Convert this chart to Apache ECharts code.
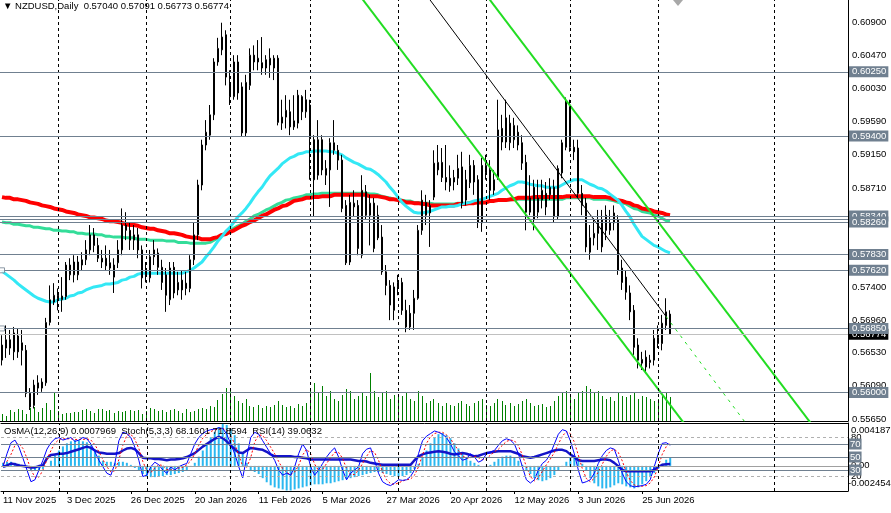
<!DOCTYPE html>
<html><head><meta charset="utf-8">
<script src="https://cdn.jsdelivr.net/npm/echarts@6/dist/echarts.min.js"></script>
<style>html,body{margin:0;padding:0;background:#fff}#c{width:891px;height:513px}</style>
</head><body><div id="c"></div>
<script>
// ---------------- data ----------------
const dateLabels = ['11 Nov 2025','3 Dec 2025','26 Dec 2025','20 Jan 2026','11 Feb 2026','5 Mar 2026','27 Mar 2026','20 Apr 2026','12 May 2026','3 Jun 2026','25 Jun 2026'];
const monthStarts = [14, 36, 57, 77, 99, 121, 142, 164, 193];

const opens = [
.5643,.5659,.5670,.5654,.5675,.5656,.5656,.5599,.5583,.5606,
.5606,.5613,.5693,.5720,.5729,.5723,.5727,.5756,.5773,.5756,
.5769,.5776,.5789,.5809,.5795,.5778,.5778,.5772,.5769,.5772,
.5789,.5822,.5815,.5802,.5809,.5789,.5762,.5752,.5789,.5785,
.5766,.5756,.5723,.5766,.5736,.5749,.5745,.5738,.5776,.5809,
.5875,.5928,.5941,.5968,.6038,.6054,.6074,.6010,.5992,.6038,
.6005,.5944,.6007,.6047,.6038,.6037,.6030,.6034,.6030,.6043,
.5957,.5965,.5972,.5952,.5957,.5992,.5972,.5981,.5935,.5888,
.5935,.5888,.5895,.5921,.5921,.5908,.5848,.5773,.5846,.5848,
.5782,.5866,.5835,.5851,.5835,.5806,.5760,.5742,.5709,.5740,
.5746,.5709,.5705,.5705,.5725,.5815,.5835,.5838,.5859,.5895,
.5905,.5885,.5884,.5879,.5884,.5899,.5855,.5878,.5901,.5882,
.5901,.5892,.5895,.5868,.5885,.5950,.5932,.5931,.5935,.5945,
.5931,.5905,.5839,.5872,.5839,.5855,.5864,.5862,.5872,.5833,
.5891,.5925,.5981,.5925,.5924,.5864,.5851,.5786,.5805,.5829,
.5793,.5835,.5815,.5825,.5829,.5765,.5753,.5732,.5709,.5663,
.5639,.5647,.5640,.5643,.5673,.5665,.5689,.57040];
const closes = [
.5663,.5670,.5659,.5679,.5654,.5666,.5599,.5581,.5610,.5613,
.5614,.5693,.5723,.5729,.5725,.5728,.5769,.5769,.5756,.5773,
.5776,.5789,.5809,.5795,.5778,.5773,.5768,.5765,.5753,.5789,
.5822,.5815,.5802,.5809,.5789,.5752,.5756,.5780,.5780,.5766,
.5746,.5729,.5765,.5732,.5746,.5736,.5738,.5776,.5809,.5875,
.5928,.5945,.5968,.6038,.6056,.6071,.6018,.5992,.6038,.5997,
.5944,.6011,.6047,.6038,.6043,.6030,.6041,.6043,.6043,.5958,
.5965,.5974,.5952,.5960,.5994,.5972,.5988,.5937,.5882,.5935,
.5895,.5897,.5931,.5931,.5908,.5844,.5772,.5852,.5851,.5791,
.5868,.5835,.5851,.5791,.5805,.5760,.5742,.5716,.5740,.5746,
.5709,.5687,.5687,.5725,.5815,.5855,.5852,.5848,.5904,.5905,
.5885,.5879,.5874,.5885,.5897,.5851,.5882,.5901,.5879,.5826,
.5825,.5901,.5868,.5882,.5948,.5932,.5964,.5957,.5954,.5928,
.5904,.5839,.5858,.5829,.5858,.5868,.5846,.5872,.5833,.5897,
.5931,.5985,.5925,.5919,.5864,.5848,.5793,.5805,.5811,.5811,
.5829,.5815,.5825,.5838,.5762,.5746,.5733,.5707,.5660,.5643,
.5644,.5634,.5643,.5672,.5665,.5692,.5707,.56774];
const highs = [
.5676,.5689,.5683,.5687,.5685,.5683,.5663,.5606,.5617,.5623,
.5619,.5699,.5742,.5745,.5738,.5753,.5773,.5778,.5782,.5781,
.5786,.5802,.5822,.5818,.5805,.5789,.5795,.5789,.5778,.5802,
.5844,.5839,.5826,.5822,.5818,.5795,.5773,.5789,.5802,.5791,
.5776,.5765,.5773,.5773,.5760,.5762,.5760,.5782,.5826,.5882,
.5935,.5961,.5981,.6043,.6070,.6090,.6080,.6027,.6047,.6047,
.6011,.6021,.6056,.6060,.6067,.6071,.6047,.6056,.6047,.6047,
.5988,.5994,.5988,.5994,.6001,.5994,.6001,.5988,.5941,.5961,
.5941,.5908,.5937,.5961,.5928,.5915,.5855,.5862,.5868,.5855,
.5888,.5875,.5862,.5858,.5848,.5822,.5769,.5749,.5746,.5756,
.5752,.5723,.5716,.5736,.5822,.5868,.5862,.5855,.5921,.5928,
.5924,.5928,.5901,.5895,.5915,.5919,.5895,.5915,.5908,.5888,
.5911,.5915,.5908,.5895,.5988,.5968,.5988,.5968,.5964,.5954,
.5941,.5915,.5888,.5882,.5882,.5882,.5879,.5884,.5882,.5901,
.5935,.5991,.5988,.5935,.5935,.5875,.5858,.5822,.5831,.5842,
.5842,.5848,.5842,.5848,.5835,.5776,.5762,.5742,.5716,.5672,
.5654,.5656,.5650,.5683,.5689,.5703,.5725,.57091];
const lows = [
.5636,.5646,.5650,.5643,.5646,.5636,.5594,.5577,.5579,.5597,
.5601,.5609,.5689,.5716,.5709,.5707,.5723,.5749,.5746,.5749,
.5762,.5769,.5782,.5786,.5773,.5765,.5762,.5756,.5732,.5765,
.5782,.5802,.5789,.5789,.5778,.5738,.5746,.5746,.5769,.5756,
.5736,.5707,.5716,.5725,.5729,.5723,.5729,.5733,.5769,.5802,
.5868,.5921,.5935,.5961,.6033,.6047,.6007,.5981,.5988,.5988,
.5939,.5939,.6001,.6027,.6027,.6021,.6021,.6017,.6014,.5954,
.5948,.5950,.5941,.5948,.5950,.5961,.5964,.5882,.5833,.5882,
.5888,.5875,.5846,.5915,.5895,.5839,.5769,.5769,.5833,.5782,
.5778,.5829,.5795,.5786,.5802,.5756,.5729,.5696,.5696,.5729,
.5703,.5680,.5683,.5683,.5723,.5809,.5822,.5793,.5855,.5888,
.5879,.5868,.5866,.5868,.5875,.5844,.5848,.5871,.5862,.5818,
.5813,.5882,.5855,.5862,.5882,.5921,.5924,.5921,.5924,.5921,
.5895,.5815,.5835,.5815,.5831,.5844,.5835,.5855,.5826,.5829,
.5884,.5921,.5919,.5908,.5858,.5835,.5786,.5776,.5795,.5789,
.5786,.5802,.5809,.5815,.5756,.5736,.5723,.5696,.5650,.5632,
.5630,.5627,.5632,.5636,.5659,.5656,.5683,.56773];
// tick volume, thousands
const volumesK = [
20,14,31,26,34,31,20,37,40,26, 37,51,31,80,29,20,23,23,26,26,
31,34,29,23,34,34,29,31,23,29, 26,29,31,29,31,20,29,37,34,29,
31,26,31,34,29,23,34,26,29,34, 37,34,43,40,60,77,94,94,71,57,
51,63,43,40,46,37,43,40,46,57, 46,40,43,37,48,43,51,86,108,80,
100,71,86,63,57,74,91,86,63,71, 80,71,137,86,68,80,86,63,74,68,
71,80,63,57,86,71,51,57,63,51, 43,51,46,43,51,57,48,43,51,57,
63,46,43,51,63,57,46,51,43,48, 57,63,51,43,46,48,40,43,57,71,
80,86,74,63,80,86,100,91,80,86, 71,63,68,57,80,71,68,74,80,63,
71,68,63,57,63,74,80,68];
const maFast = [ // aqua
.5761,.5757,.5753,.5749,.5744,.5740,.5736,.5732,.5728,.5725,
.5723,.5721,.5720,.5720,.5723,.5724,.5725,.5728,.5729,.5732,
.5733,.5736,.5738,.5740,.5741,.5742,.5744,.5744,.5745,.5746,
.5749,.5750,.5753,.5754,.5757,.5758,.5758,.5758,.5758,.5758,
.5758,.5758,.5758,.5758,.5758,.5758,.5760,.5762,.5765,.5769,
.5773,.5780,.5786,.5793,.5801,.5807,.5814,.5819,.5826,.5833,
.5838,.5844,.5851,.5859,.5866,.5872,.5880,.5887,.5892,.5897,
.5903,.5907,.5911,.5913,.5916,.5917,.5919,.5919,.5920,.5920,
.5920,.5920,.5919,.5919,.5917,.5915,.5911,.5908,.5905,.5903,
.5900,.5897,.5896,.5893,.5889,.5884,.5879,.5872,.5866,.5859,
.5852,.5847,.5843,.5839,.5838,.5838,.5839,.5840,.5842,.5844,
.5846,.5846,.5847,.5847,.5848,.5850,.5851,.5852,.5854,.5855,
.5856,.5858,.5860,.5862,.5864,.5868,.5871,.5874,.5876,.5879,
.5879,.5878,.5876,.5875,.5874,.5874,.5872,.5872,.5872,.5872,
.5875,.5878,.5880,.5882,.5882,.5882,.5879,.5876,.5874,.5871,
.5870,.5867,.5863,.5859,.5855,.5848,.5840,.5833,.5823,.5815,
.5807,.5803,.5799,.5795,.5793,.5790,.5787,.5785];
const maMid = [ // green
.5826,.5825,.5825,.5823,.5823,.5822,.5821,.5821,.5819,.5819,
.5818,.5817,.5817,.5815,.5815,.5814,.5814,.5813,.5813,.5811,
.5811,.5810,.5810,.5810,.5809,.5809,.5807,.5807,.5806,.5806,
.5806,.5805,.5805,.5805,.5803,.5803,.5803,.5802,.5802,.5802,
.5802,.5801,.5801,.5801,.5799,.5799,.5799,.5798,.5798,.5798,
.5798,.5798,.5799,.5802,.5805,.5809,.5811,.5814,.5818,.5821,
.5823,.5827,.5830,.5834,.5836,.5839,.5842,.5844,.5847,.5850,
.5852,.5855,.5856,.5858,.5859,.5860,.5862,.5862,.5863,.5863,
.5864,.5864,.5864,.5864,.5864,.5864,.5864,.5864,.5864,.5864,
.5864,.5864,.5863,.5863,.5862,.5860,.5859,.5858,.5856,.5856,
.5855,.5854,.5854,.5852,.5852,.5851,.5851,.5851,.5850,.5850,
.5850,.5850,.5850,.5850,.5851,.5851,.5851,.5851,.5852,.5852,
.5852,.5852,.5854,.5854,.5855,.5855,.5855,.5855,.5856,.5856,
.5856,.5856,.5856,.5856,.5856,.5856,.5856,.5856,.5856,.5856,
.5856,.5858,.5858,.5858,.5858,.5858,.5858,.5858,.5856,.5856,
.5856,.5856,.5855,.5854,.5852,.5851,.5850,.5847,.5844,.5843,
.5840,.5839,.5838,.5835,.5834,.5831,.5828,.5827];
const maSlow = [ // red
.5859,.5858,.5858,.5856,.5856,.5855,.5854,.5852,.5851,.5850,
.5848,.5847,.5846,.5844,.5843,.5842,.5840,.5839,.5838,.5836,
.5835,.5834,.5832,.5832,.5831,.5830,.5828,.5827,.5827,.5826,
.5825,.5823,.5822,.5822,.5821,.5819,.5818,.5817,.5817,.5815,
.5814,.5813,.5811,.5811,.5810,.5809,.5807,.5806,.5805,.5805,
.5803,.5803,.5803,.5805,.5806,.5809,.5810,.5813,.5815,.5818,
.5821,.5823,.5826,.5828,.5831,.5834,.5836,.5839,.5842,.5844,
.5847,.5848,.5851,.5854,.5855,.5856,.5858,.5858,.5859,.5859,
.5860,.5860,.5860,.5862,.5862,.5862,.5862,.5862,.5862,.5862,
.5862,.5862,.5860,.5860,.5860,.5859,.5858,.5856,.5856,.5855,
.5854,.5852,.5852,.5851,.5851,.5850,.5850,.5848,.5848,.5848,
.5848,.5848,.5848,.5848,.5850,.5850,.5850,.5851,.5851,.5852,
.5852,.5852,.5854,.5854,.5855,.5855,.5855,.5856,.5856,.5858,
.5858,.5858,.5858,.5859,.5859,.5859,.5859,.5859,.5859,.5859,
.5859,.5860,.5860,.5860,.5860,.5860,.5860,.5860,.5859,.5859,
.5859,.5859,.5858,.5856,.5855,.5854,.5852,.5851,.5848,.5847,
.5844,.5843,.5842,.5840,.5839,.5838,.5836,.5835];
const osma = [
0.0003,0.0004,0.0004,0.0003,0.0002,0,-0.0002,-0.0004,-0.0005,-0.0004,
-0.0003,0,0.0005,0.0010,0.0015,0.0019,0.0022,0.0024,0.0025,0.0025,
0.0024,0.0023,0.0020,0.0016,0.0010,0.0005,0.0004,0.0004,0.0003,0.0004,
0.0004,0.0003,0.0001,-0.0002,-0.0005,-0.0008,-0.0010,-0.0011,-0.0011,-0.0010,
-0.0010,-0.0009,-0.0009,-0.0008,-0.0007,-0.0006,-0.0004,-0.0001,0.0003,0.0009,
0.0015,0.0022,0.0028,0.0033,0.0038,0.0041,0.0040,0.0036,0.0030,0.0022,
0.0012,0.0003,-0.0004,-0.0006,-0.0008,-0.0012,-0.0016,-0.0019,-0.0021,-0.0022,
-0.0023,-0.0024,-0.0024,-0.0023,-0.0022,-0.0021,-0.0020,-0.0019,-0.0018,-0.0018,
-0.0018,-0.0017,-0.0017,-0.0016,-0.0015,-0.0014,-0.0013,-0.0012,-0.0011,-0.0010,
-0.0009,-0.0008,-0.0007,-0.0006,-0.0006,-0.0007,-0.0008,-0.0009,-0.0010,-0.0010,
-0.0010,-0.0009,-0.0007,-0.0003,0.0002,0.0008,0.0015,0.0022,0.0028,0.0031,
0.0032,0.0030,0.0027,0.0022,0.0017,0.0012,0.0008,0.0005,0.0003,0.0001,
0,-0.0001,0.0001,0.0004,0.0007,0.0009,0.0010,0.0010,0.0008,0.0005,
0.0001,-0.0004,-0.0008,-0.0012,-0.0014,-0.0015,-0.0014,-0.0012,-0.0009,-0.0005,
-0.0001,0.0004,0.0008,0.0009,0.0007,0.0002,-0.0005,-0.0012,-0.0017,-0.0020,
-0.0022,-0.0022,-0.0021,-0.0019,-0.0017,-0.0018,-0.0020,-0.0021,-0.0022,-0.0021,
-0.0018,-0.0015,-0.0011,-0.0007,-0.0003,0.0002,0.0006,0.0007969];
const stochMain = [
35,55,72,76,65,48,30,12,15,30, 45,62,72,78,80,76,78,80,74,76,
80,78,70,58,45,35,25,22,40,75, 88,86,80,65,45,20,22,35,42,38,
30,25,35,30,35,38,40,55,70,80, 86,90,92,93,95,94,85,70,55,35,
18,50,80,88,85,75,65,55,45,30, 22,25,22,35,55,70,60,35,22,30,
40,50,58,64,50,30,15,25,30,35, 55,62,64,45,25,12,8,6,10,15,
14,15,20,30,55,75,82,86,90,88, 85,80,70,58,52,45,47,55,50,42,
45,55,58,60,68,75,78,76,70,55, 35,15,10,15,30,40,45,55,70,85,
92,90,75,55,30,10,12,15,25,40, 52,60,64,62,45,25,12,6,4,5,
6,8,15,35,55,71,72,68.1601];
const stochSignal = [
40,43,54,68,71,63,48,30,19,19, 30,46,60,71,77,78,78,78,77,77,
77,78,76,69,58,46,35,27,29,46, 68,83,85,77,63,43,29,26,33,38,
37,31,30,30,33,34,38,44,55,68, 79,85,89,92,93,94,91,83,70,53,
36,34,49,73,84,83,75,65,55,43, 32,26,23,27,37,53,62,55,39,29,
31,40,49,57,57,48,32,23,23,30, 40,51,60,57,45,27,15,9,8,10,
13,15,16,22,35,53,71,81,86,88, 88,84,78,69,60,52,48,49,51,49,
46,47,53,58,62,68,74,76,75,67, 53,35,20,13,18,28,38,47,57,70,
82,89,86,73,53,32,17,12,17,27, 39,51,59,62,57,44,27,14,7,5,
5,6,10,19,35,54,66,71.8594];
const rsi = [
35,37,40,39,37,36,35,34,34,36, 37,48,53,54,55,55,56,58,60,62,
64,66,64,60,57,56,55,55,55,56, 60,63,64,62,56,49,48,48,47,47,
46,45,46,46,47,48,50,53,56,61, 66,70,74,78,81,79,74,68,62,57,
56,60,64,63,62,61,58,54,51,51, 51,51,51,50,50,49,48,46,46,46,
46,46,46,46,46,46,46,46,45,44, 44,43,41,40,39,38,38,38,38,38,
38,38,38,45,51,54,56,57,58,59, 58,57,55,54,55,56,55,53,51,52,
54,56,57,58,59,59,59,59,57,55, 51,50,49,50,52,54,56,58,60,61,
61,59,54,50,45,44,44,44,44,45, 46,46,45,41,36,30,28,28,28,28,
28,28,28,30,35,38,39,39.0632];
// trendline anchors: [bar index, price]
const channelLower = [[85, 0.6157], [175, 0.5528]];
const channelUpper = [[115, 0.6169], [205, 0.5540]];
const midLine = [[100, 0.6170], [166, 0.5701]];
const midLineExt = [[166, 0.5701], [188, 0.5545]];
const hlineAnchors = [[0, 0.57620], [0, 0.56850]];
// horizontal levels
const levelValues = [0.60250, 0.59400, 0.58340, 0.58300, 0.58260, 0.57830, 0.57620, 0.56850, 0.56000];
const levelLabels = ['0.60250','0.59400','0.58340','','0.58260','0.57830','0.57620','0.56850','0.56000'];
const lastPrice = 0.56774;
const lastPriceLabel = '0.56774';
const priceTickValues = [0.6090,0.6047,0.6003,0.5959,0.5915,0.5871,0.5827,0.5783,0.5740,0.5696,0.5653,0.5609,0.5565];
const priceTickLabels = ['0.60900','0.60470','0.60030','0.59590','0.59150','0.58710','0.58270','0.57830','0.57400','0.56960','0.56530','0.56090','0.55650'];
const oscBoxLevels = [70, 50, 30];
const oscDashLevels = [80, 20];
const osmaMaxLabel = '0.0041876';
const osmaMinLabel = '-0.002454';
const titleText = '\u25BC NZDUSD,Daily  0.57040 0.57091 0.56773 0.56774';
const subText = 'OsMA(12,26,9) 0.0007969  Stoch(5,3,3) 68.1601 71.8594  RSI(14) 39.0632';

// ---------------- chart ----------------
const FONT = '"Liberation Sans", Arial, sans-serif';
const FS = 9.5;
const N_SLOTS = 212;
const slots = Array.from({length: N_SLOTS}, (_, i) => i);
const SLATE = '#708090';
const CLEAR = 'rgba(0,0,0,0)';
const candleData = opens.map((o, i) => [o, closes[i], lows[i], highs[i]]);
const volumeData = volumesK.map((v, i) => [i, v]);
const showDate = (i) => i % 16 === 0 && i / 16 < dateLabels.length;

const vDash = monthStarts.map(v => ({xAxis: v}));
const vDashStyle = {color: '#000', width: 1, type: [3, 3]};

const chart = echarts.init(document.getElementById('c'), null, {renderer: 'canvas'});
const option = {
  animation: false,
  backgroundColor: '#ffffff',
  textStyle: {fontFamily: FONT},
  title: [
    {text: titleText, left: 3, top: 1, padding: 0,
     textStyle: {fontSize: FS, fontWeight: 'normal', color: '#000', fontFamily: FONT}},
    {text: subText, left: 4, top: 426, padding: 0,
     textStyle: {fontSize: FS, fontWeight: 'normal', color: '#000', fontFamily: FONT}}
  ],
  grid: [
    {left: 0, top: 0, width: 848, height: 421},
    {left: 0, top: 423, width: 848, height: 68}
  ],
  xAxis: [
    {type: 'category', gridIndex: 0, data: slots, boundaryGap: true,
     axisLine: {show: true, onZero: false, lineStyle: {color: '#000'}},
     axisTick: {show: false}, axisLabel: {show: false}, splitLine: {show: false}},
    {type: 'category', gridIndex: 1, data: slots, boundaryGap: true,
     axisLine: {show: true, onZero: false, lineStyle: {color: '#000'}},
     axisTick: {show: true, interval: showDate, alignWithLabel: true, length: 3, lineStyle: {color: '#000'}},
     axisLabel: {show: true, interval: showDate, align: 'left', margin: 4, color: '#000',
       fontSize: FS, fontFamily: FONT,
       formatter: (v, idx) => dateLabels[Math.round(idx / 16)] || ''},
     splitLine: {show: false}},
    {type: 'category', gridIndex: 1, data: slots, position: 'top',
     axisLine: {show: true, onZero: false, lineStyle: {color: '#000'}},
     axisTick: {show: false}, axisLabel: {show: false}}
  ],
  yAxis: [
    {type: 'value', gridIndex: 0, min: 0.55624, max: 0.61201, position: 'right',
     axisLine: {show: true, onZero: false, lineStyle: {color: '#000'}},
     axisTick: {show: false}, axisLabel: {show: false}, splitLine: {show: false}},
    {type: 'value', gridIndex: 0, min: 0, max: 1200, show: false},
    {type: 'value', gridIndex: 1, min: -0.002454, max: 0.0041876, position: 'right',
     axisLine: {show: true, onZero: false, lineStyle: {color: '#000'}},
     axisTick: {show: false}, axisLabel: {show: false}, splitLine: {show: false}},
    {type: 'value', gridIndex: 1, min: -2.3, max: 102.3, show: false}
  ],
  series: [
    {type: 'custom', xAxisIndex: 0, yAxisIndex: 1, data: volumeData, silent: true, z: 1,
     encode: {x: 0, y: 1},
     renderItem: function (params, api) {
       const top = api.coord([api.value(0), api.value(1)]);
       const base = api.coord([api.value(0), 0]);
       const x = Math.round(top[0] - 0.5);
       return {type: 'rect', shape: {x: x, y: Math.round(top[1]), width: 1, height: Math.round(base[1]) - Math.round(top[1])},
               style: {fill: '#008000'}};
     }},
    {type: 'line', xAxisIndex: 0, yAxisIndex: 0, data: maMid, symbol: 'none',
     lineStyle: {color: '#33dd99', width: 3}, silent: true, z: 2},
    {type: 'line', xAxisIndex: 0, yAxisIndex: 0, data: maSlow, symbol: 'none',
     lineStyle: {color: '#ff0000', width: 4}, silent: true, z: 2},
    {type: 'line', xAxisIndex: 0, yAxisIndex: 0, data: maFast, symbol: 'none',
     lineStyle: {color: '#33e8f5', width: 3}, silent: true, z: 2},
    {type: 'candlestick', xAxisIndex: 0, yAxisIndex: 0, data: candleData, barWidth: 2,
     itemStyle: {color: '#ffffff', color0: '#000000', borderColor: '#000000', borderColor0: '#000000', borderWidth: 1},
     silent: true, z: 3,
     markLine: {silent: true, symbol: ['none', 'none'], label: {show: false}, lineStyle: vDashStyle, data: vDash}},
    // trend channel
    {type: 'line', xAxisIndex: 0, yAxisIndex: 0, data: channelLower, symbol: 'none', clip: true,
     lineStyle: {color: '#22dd22', width: 2}, silent: true, z: 4},
    {type: 'line', xAxisIndex: 0, yAxisIndex: 0, data: channelUpper, symbol: 'none', clip: true,
     lineStyle: {color: '#22dd22', width: 2}, silent: true, z: 4},
    {type: 'line', xAxisIndex: 0, yAxisIndex: 0, data: midLine, symbol: 'none', clip: true,
     lineStyle: {color: '#000000', width: 1}, silent: true, z: 4},
    {type: 'line', xAxisIndex: 0, yAxisIndex: 0, data: midLineExt, symbol: 'none', clip: true,
     lineStyle: {color: '#22dd22', width: 1, type: [3, 5]}, silent: true, z: 4},
    // price tick labels
    {type: 'line', xAxisIndex: 0, yAxisIndex: 0, data: [], clip: false, silent: true, z: 5,
     markLine: {silent: true, precision: 6, symbol: ['none', 'none'], lineStyle: {color: CLEAR, width: 1},
       label: {show: true, position: 'end', distance: 4, color: '#000', fontSize: FS, fontFamily: FONT},
       data: priceTickValues.map((v, i) => ({yAxis: v, label: {formatter: priceTickLabels[i]}}))}},
    // horizontal levels + last price
    {type: 'line', xAxisIndex: 0, yAxisIndex: 0, data: [], clip: false, silent: true, z: 6,
     markLine: {silent: true, precision: 6, symbol: ['none', 'none'], lineStyle: {color: SLATE, width: 1, type: 'solid'},
       label: {show: true, position: 'end', distance: 1, color: '#fff', backgroundColor: SLATE,
         padding: [1, 2, 0, 3], fontSize: FS, fontFamily: FONT},
       data: [{yAxis: lastPrice, lineStyle: {color: '#c0c0c0'},
               label: {formatter: lastPriceLabel, backgroundColor: '#000'}}]
         .concat(levelValues.map((v, i) => ({yAxis: v,
            label: levelLabels[i] ? {formatter: levelLabels[i]} : {show: false}})))}},
    {type: 'scatter', xAxisIndex: 0, yAxisIndex: 0, data: hlineAnchors, symbol: 'rect', symbolSize: 5,
     itemStyle: {color: '#ffffff', borderColor: SLATE, borderWidth: 1}, silent: true, z: 7},
    // indicator panel
    {type: 'bar', xAxisIndex: 1, yAxisIndex: 2, data: osma, barWidth: 2,
     itemStyle: {color: '#2ab8f0'}, silent: true, z: 2,
     markLine: {silent: true, precision: 6, symbol: ['none', 'none'], lineStyle: {color: '#a0a0a0', width: 1, type: 'solid'},
       label: {show: true, position: 'end', distance: 3, color: '#000', fontSize: FS, fontFamily: FONT, formatter: '0.00'},
       data: [{yAxis: 0}]}},
    {type: 'line', xAxisIndex: 1, yAxisIndex: 3, data: [], clip: false, silent: true, z: 1,
     markLine: {silent: true, symbol: ['none', 'none'],
       data: oscDashLevels.map(v => ({yAxis: v, lineStyle: {color: '#b0b0b0', width: 1, type: [3, 3]},
               label: {show: true, position: 'end', distance: 3, color: '#000', fontSize: FS, fontFamily: FONT, formatter: String(v)}}))
         .concat(oscBoxLevels.map(v => ({yAxis: v, lineStyle: {color: SLATE, width: 1, type: 'solid'},
               label: {show: true, position: 'end', distance: 1, color: '#fff', backgroundColor: SLATE,
                 padding: [1, 1, 0, 1], fontSize: FS, fontFamily: FONT, formatter: String(v)}})))}},
    {type: 'line', xAxisIndex: 1, yAxisIndex: 3, data: [], silent: true, z: 1,
     markLine: {silent: true, symbol: ['none', 'none'], label: {show: false}, lineStyle: vDashStyle, data: vDash}},
    {type: 'line', xAxisIndex: 1, yAxisIndex: 3, data: rsi, symbol: 'none',
     lineStyle: {color: '#1414c8', width: 2.5}, silent: true, z: 3},
    {type: 'line', xAxisIndex: 1, yAxisIndex: 3, data: stochSignal, symbol: 'none',
     lineStyle: {color: '#ff0000', width: 1, type: [2, 2]}, silent: true, z: 4},
    {type: 'line', xAxisIndex: 1, yAxisIndex: 3, data: stochMain, symbol: 'none',
     lineStyle: {color: '#0000ff', width: 1}, silent: true, z: 4}
  ],
  graphic: [
    {type: 'text', left: 851, top: 425, z: 100,
     style: {text: osmaMaxLabel, fill: '#000', fontSize: FS, fontFamily: FONT}},
    {type: 'text', left: 848, top: 478, z: 100,
     style: {text: osmaMinLabel, fill: '#000', fontSize: FS, fontFamily: FONT}},
    {type: 'polygon', z: 100, shape: {points: [[673, 0], [683, 0], [678, 6]]}, style: {fill: '#a8a8a8'}}
  ]
};
chart.setOption(option);
</script>
</body></html>
